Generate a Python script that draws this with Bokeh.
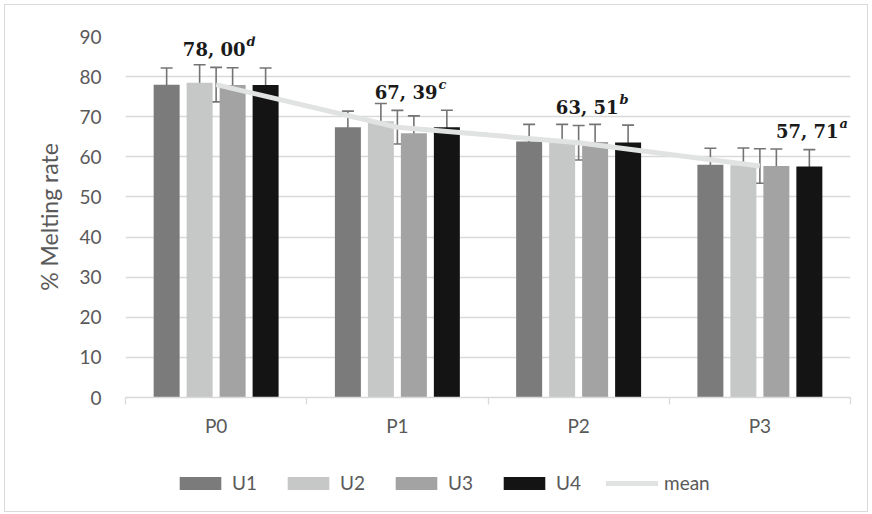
from bokeh.plotting import figure
from bokeh.layouts import column
from bokeh.models import (ColumnDataSource, Whisker, TeeHead, FixedTicker, Legend,
                          LegendItem, Range1d)
from bokeh.core.properties import value
from bokeh.embed import file_html
from bokeh.resources import INLINE

# ---------------- data ----------------
categories = ["P0", "P1", "P2", "P3"]
series_names = ["U1", "U2", "U3", "U4"]
u1 = [78.0, 67.4, 63.8, 58.0]
u2 = [78.5, 68.9, 63.6, 57.9]
u3 = [77.9, 65.9, 63.7, 57.7]
u4 = [77.9, 67.4, 63.6, 57.6]
u1_err = [4.15, 4.0, 4.3, 4.15]
u2_err = [4.45, 4.4, 4.5, 4.3]
u3_err = [4.3, 4.3, 4.4, 4.25]
u4_err = [4.25, 4.2, 4.3, 4.2]
mean = [78.00, 67.39, 63.51, 57.71]
mean_err = [4.3, 4.2, 4.3, 4.3]
mean_labels = ["78, 00", "67, 39", "63, 51", "57, 71"]
mean_letters = ["d", "c", "b", "a"]
y_ticks = [0, 10, 20, 30, 40, 50, 60, 70, 80, 90]

# ---------------- style / layout ----------------
colors = ["#7b7b7b", "#c6c7c7", "#a3a3a3", "#141414"]
mean_color = "#e1e2e2"
err_color = "#747474"
grid_color = "#d9d9d9"
text_color = "#595959"
font = "Lato"
label_font = "DejaVu Serif"
BAR_STEP = 0.182
BAR_W = 0.1434
bar_offsets = [-1.5 * BAR_STEP, -0.5 * BAR_STEP, 0.5 * BAR_STEP, 1.5 * BAR_STEP]
label_dx = [0.162, 0.221, 0.220, 0.434]

p = figure(width=862, height=440, x_range=Range1d(-0.5, 3.5), y_range=Range1d(0, 90),
           output_backend="svg", toolbar_location=None,
           min_border_left=120, min_border_right=17, min_border_top=31, min_border_bottom=48)
p.outline_line_color = None
p.background_fill_color = "white"
p.border_fill_color = "white"

# grid
p.xgrid.visible = False
p.ygrid.ticker = FixedTicker(ticks=y_ticks)
p.ygrid.grid_line_color = grid_color
p.ygrid.grid_line_width = 1.3

# y axis
p.yaxis.ticker = FixedTicker(ticks=y_ticks)
p.yaxis.axis_line_color = None
p.yaxis.major_tick_line_color = None
p.yaxis.minor_tick_line_color = None
p.yaxis.major_tick_out = 0
p.yaxis.major_tick_in = 0
p.yaxis.major_label_standoff = 24
p.yaxis.major_label_text_font = font
p.yaxis.major_label_text_font_size = "19px"
p.yaxis.major_label_text_color = text_color
p.yaxis.axis_label = "% Melting rate"
p.yaxis.axis_label_text_font = font
p.yaxis.axis_label_text_font_size = "23px"
p.yaxis.axis_label_text_font_style = "normal"
p.yaxis.axis_label_text_color = text_color
p.yaxis.axis_label_standoff = 13

# x axis
p.xaxis.ticker = FixedTicker(ticks=list(range(len(categories))),
                             minor_ticks=[i - 0.5 for i in range(len(categories) + 1)])
p.xaxis.major_label_overrides = {i: c for i, c in enumerate(categories)}
p.xaxis.major_tick_line_color = None
p.xaxis.major_tick_out = 0
p.xaxis.major_tick_in = 0
p.xaxis.minor_tick_line_color = grid_color
p.xaxis.minor_tick_line_width = 1.3
p.xaxis.minor_tick_out = 7
p.xaxis.minor_tick_in = 0
p.xaxis.axis_line_color = grid_color
p.xaxis.axis_line_width = 1.3
p.xaxis.major_label_standoff = 9
p.xaxis.major_label_text_font = font
p.xaxis.major_label_text_font_size = "19px"
p.xaxis.major_label_text_color = text_color

# bars
series_vals = [u1, u2, u3, u4]
series_errs = [u1_err, u2_err, u3_err, u4_err]
err_sources = []
bar_sources = []
for k, (vals, errs) in enumerate(zip(series_vals, series_errs)):
    xs = [i + bar_offsets[k] for i in range(len(categories))]
    src = ColumnDataSource(dict(x=xs, top=vals))
    bar_sources.append(src)
    p.vbar(x="x", top="top", width=BAR_W, bottom=0, source=src,
           fill_color=colors[k], line_color=None)
    err_sources.append(ColumnDataSource(dict(
        x=xs, upper=[v + e for v, e in zip(vals, errs)],
        lower=[v - e for v, e in zip(vals, errs)])))

# mean line
xm = list(range(len(categories)))
mean_src = ColumnDataSource(dict(x=xm, y=mean))
p.line(x="x", y="y", source=mean_src, line_color=mean_color, line_width=5)
err_sources.append(ColumnDataSource(dict(
    x=xm, upper=[v + e for v, e in zip(mean, mean_err)],
    lower=[v - e for v, e in zip(mean, mean_err)])))

for src in err_sources:
    w = Whisker(source=src, base="x", upper="upper", lower="lower", dimension="height",
                line_color=err_color, line_width=1.6,
                upper_head=TeeHead(size=12, line_color=err_color, line_width=1.6),
                lower_head=TeeHead(size=12, line_color=err_color, line_width=1.6))
    p.add_layout(w)

# mean value labels
lx = [i + d for i, d in zip(xm, label_dx)]
p.text(x=lx, y=mean, text=mean_labels, text_align="right", text_baseline="alphabetic",
       y_offset=-35, text_font=value(label_font), text_font_style="bold",
       text_font_size="18px", text_color="#1a1a1a")
p.text(x=lx, y=mean, text=mean_letters, text_align="left", text_baseline="alphabetic",
       x_offset=1, y_offset=-43, text_font=value(label_font),
       text_font_style="bold italic", text_font_size="13px", text_color="#1a1a1a")

# ---------------- legend strip ----------------
# same sources as the chart, viewed through a range where nothing is visible
lg = figure(width=862, height=66, x_range=Range1d(100, 101), y_range=Range1d(100, 101),
            output_backend="svg", toolbar_location=None,
            x_axis_location=None, y_axis_location=None,
            min_border_left=0, min_border_right=0, min_border_top=0, min_border_bottom=0)
lg.grid.visible = False
lg.outline_line_color = None
lg.border_fill_color = "white"
lg.background_fill_color = "white"

legend_renderers = []
for k in range(len(series_names)):
    legend_renderers.append(lg.vbar(x="x", top="top", width=BAR_W, source=bar_sources[k],
                                     fill_color=colors[k], line_color=None))
legend_renderers.append(lg.line(x="x", y="y", source=mean_src, line_color=mean_color,
                                line_width=5, line_cap="round"))
items = [LegendItem(label=n, renderers=[r])
         for n, r in zip(series_names + ["mean"], legend_renderers)]
# the column aligns this strip's frame with the chart's frame (left edge at the y axis)
legend = Legend(items=items, orientation="horizontal", location=(49, 17),
                glyph_width=52, glyph_height=16, label_standoff=6, spacing=20,
                label_width=30, label_height=16, padding=0, margin=0,
                border_line_color=None, background_fill_alpha=0,
                label_text_font=font, label_text_font_size="19px",
                label_text_color=text_color)
lg.add_layout(legend)

layout = column(p, lg, spacing=0)
layout.styles = {"margin-left": "4px", "margin-top": "4px", "border": "1px solid #d9d9d9"}

open("out.html", "w").write(file_html(layout, INLINE))
